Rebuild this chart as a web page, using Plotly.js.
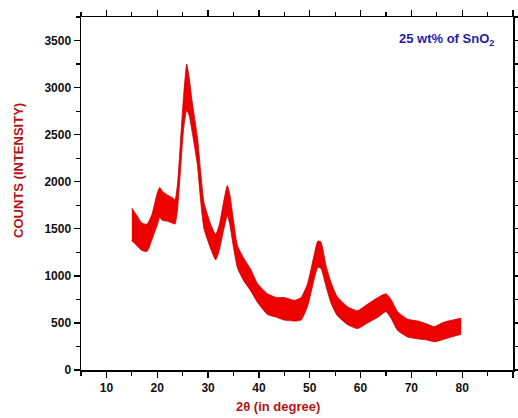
<!DOCTYPE html>
<html>
<head>
<meta charset="utf-8">
<script src="https://cdn.plot.ly/plotly-3.0.1.min.js"></script>
<style>html,body{margin:0;padding:0;background:#fff;}#chart{width:518px;height:418px;}</style>
</head>
<body>
<div id="chart"></div>
<script>
// 2-theta positions (degrees) and the upper / lower edges of the noisy XRD trace (counts)
const twoTheta = [15.0, 15.5, 16.0, 17.0, 18.0, 19.0, 20.0, 20.5, 21.0, 22.0, 23.0, 23.5, 24.0, 24.6, 25.2, 25.8, 26.3, 26.9, 27.9, 28.5, 29.2, 30.5, 31.5, 32.2, 33.0, 33.8, 34.3, 34.8, 35.8, 37.1, 38.4, 39.7, 41.7, 43.5, 45.0, 47.0, 48.3, 49.6, 50.9, 51.6, 52.2, 53.2, 54.2, 55.4, 57.5, 59.4, 61.4, 63.4, 65.0, 66.0, 67.3, 69.3, 71.3, 73.0, 74.5, 76.0, 77.2, 79.8];
const upperCounts = [1720, 1680, 1640, 1560, 1550, 1660, 1880, 1940, 1900, 1860, 1830, 1810, 1980, 2450, 2920, 3250, 3100, 2840, 2480, 2130, 1780, 1550, 1440, 1540, 1770, 1960, 1860, 1670, 1320, 1180, 1070, 920, 810, 770, 770, 740, 770, 920, 1230, 1370, 1360, 1110, 930, 780, 670, 630, 700, 770, 810, 750, 620, 540, 520, 490, 460, 500, 520, 550];
const lowerCounts = [1370, 1350, 1320, 1270, 1260, 1390, 1540, 1620, 1590, 1580, 1560, 1550, 1710, 2140, 2570, 2760, 2700, 2520, 2180, 1820, 1500, 1290, 1170, 1270, 1470, 1640, 1540, 1370, 1080, 940, 840, 720, 590, 560, 530, 520, 530, 680, 970, 1090, 1080, 890, 710, 580, 480, 440, 500, 560, 620, 550, 420, 350, 330, 320, 300, 320, 340, 380];

const xTickVals = [10, 20, 30, 40, 50, 60, 70, 80, 90];
const yTickVals = [0, 500, 1000, 1500, 2000, 2500, 3000, 3500];

const traceRed = 'rgb(236,0,0)';
const edgeLine = {color: 'rgb(205,0,0)', width: 0.8, shape: 'spline', smoothing: 0.5};
const data = [
  {x: twoTheta, y: lowerCounts, type: 'scatter', mode: 'lines',
   line: edgeLine, hoverinfo: 'skip', showlegend: false},
  {x: twoTheta, y: upperCounts, type: 'scatter', mode: 'lines', fill: 'tonexty',
   fillcolor: traceRed, line: edgeLine, showlegend: false}
];

const tickFont = {family: 'Liberation Sans, Arial, sans-serif', size: 12, color: '#111', weight: 'bold'};

// Ticks are put inside on every side (mirrored to top and right like the reference),
// and the labelled bottom/left sides are given their tick marks through 'allticks' mirroring.
const layout = {
  width: 518, height: 418,
  margin: {l: 81, r: 5, t: 17, b: 48, pad: 0},
  paper_bgcolor: '#fff', plot_bgcolor: '#fff',
  showlegend: false,
  xaxis: {
    range: [5, 90], tickvals: xTickVals, ticks: 'outside', ticklen: 6, tickwidth: 1.3,
    tickcolor: '#000', showline: true, linecolor: '#000', linewidth: 1.5, mirror: 'allticks',
    showgrid: false, zeroline: false, tickfont: tickFont,
    minor: {dtick: 5, tick0: 0, ticks: 'outside', ticklen: 4, tickwidth: 1.2, tickcolor: '#000', showgrid: false}
  },
  yaxis: {
    range: [0, 3750], tickvals: yTickVals, ticks: 'outside', ticklen: 6, tickwidth: 1.3,
    tickcolor: '#000', showline: true, linecolor: '#000', linewidth: 1.5, mirror: 'allticks',
    showgrid: false, zeroline: false, tickfont: tickFont,
    minor: {dtick: 250, tick0: 0, ticks: 'outside', ticklen: 4, tickwidth: 1.2, tickcolor: '#000', showgrid: false}
  },
  annotations: [
    {text: '25 wt% of SnO<sub>2</sub>', xref: 'paper', yref: 'paper', x: 0.96, y: 0.935,
     xanchor: 'right', yanchor: 'middle', showarrow: false,
     font: {family: 'Liberation Sans, Arial, sans-serif', size: 13, color: 'rgb(30,30,170)', weight: 'bold'}},
    {text: 'COUNTS (INTENSITY)', xref: 'paper', yref: 'paper', x: -0.145, y: 0.565,
     xanchor: 'center', yanchor: 'middle', textangle: -90, showarrow: false,
     font: {family: 'Liberation Sans, Arial, sans-serif', size: 13, color: 'rgb(180,20,20)', weight: 'bold'}},
    {text: '2θ (in degree)', xref: 'paper', yref: 'paper', x: 0.455, y: -0.103,
     xanchor: 'center', yanchor: 'middle', showarrow: false,
     font: {family: 'Liberation Sans, Arial, sans-serif', size: 13, color: 'rgb(180,20,20)', weight: 'bold'}}
  ]
};

Plotly.newPlot('chart', data, layout, {displayModeBar: false, staticPlot: true});
</script>
</body>
</html>
